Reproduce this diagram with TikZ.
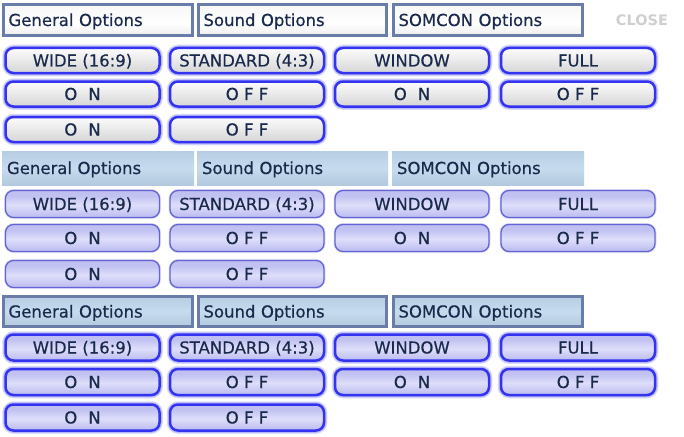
\documentclass[tikz,border=0pt]{standalone}
\usepackage{fontspec}
\setmainfont[FakeBold=0.5]{DejaVu Sans}
\newfontfamily\closefont{DejaVu Sans Bold}
\definecolor{txt}{HTML}{1A2A4C}
\definecolor{tabline}{HTML}{6A7DA8}
\definecolor{btnblue}{HTML}{3434F0}
\definecolor{btnthin}{HTML}{6464D4}
\definecolor{lavA}{HTML}{AAAAE4}
\definecolor{lavB}{HTML}{C2C2F2}
\definecolor{lavC}{HTML}{DEDEFA}
\definecolor{lavD}{HTML}{B4B4EC}
\definecolor{bluA}{HTML}{9FB6CC}
\definecolor{bluB}{HTML}{C6DBEE}
\definecolor{bluC}{HTML}{A8C0D7}
\pgfdeclareverticalshading{silverbtn}{100bp}{color(0bp)=(gray!26); color(30bp)=(gray!30); color(55bp)=(gray!14); color(80bp)=(white); color(100bp)=(white)}
\pgfdeclareverticalshading{silvertab}{100bp}{color(0bp)=(gray!30); color(45bp)=(white); color(100bp)=(gray!12)}
\pgfdeclareverticalshading{lavbtn}{100bp}{color(0bp)=(lavA); color(30bp)=(lavB); color(48bp)=(lavC); color(65bp)=(lavB); color(100bp)=(lavD)}
\pgfdeclareverticalshading{bluetab}{100bp}{color(0bp)=(bluA); color(50bp)=(bluB); color(100bp)=(bluC)}
\tikzset{
  lbl/.style={font=\fontsize{16.5}{18}\selectfont, text=txt, text height=12pt, text depth=0pt},
  tabtxt/.style={lbl, text width=179pt, align=left, inner xsep=5pt, inner ysep=0pt},
  tabA/.style={tabtxt, draw=tabline, line width=3pt, shading=silvertab, minimum height=31pt},
  tabB/.style={tabtxt, shading=bluetab, minimum height=34pt},
  tabC/.style={tabtxt, draw=tabline, line width=3pt, shading=bluetab, minimum height=30pt},
  btnbase/.style={lbl, rounded corners=8pt, minimum width=154pt, inner sep=0pt},
  btnA/.style={btnbase, draw=btnblue, line width=2.5pt, shading=silverbtn, minimum height=25pt,
    preaction={draw=btnblue!18, line width=6.5pt}, preaction={draw=btnblue!35, line width=4.5pt}},
  btnB/.style={btnbase, draw=btnthin, line width=1.3pt, shading=lavbtn, minimum height=27pt,
    preaction={draw=btnthin!20, line width=3pt}},
  btnC/.style={btnbase, draw=btnblue, line width=2.5pt, shading=lavbtn, minimum height=26pt,
    preaction={draw=btnblue!18, line width=6.5pt}, preaction={draw=btnblue!35, line width=4.5pt}},
  closelbl/.style={font=\closefont\fontsize{14.5}{16}\selectfont, text=gray!38}
}
\newcommand{\onlbl}{O\hspace{11pt}N}
\newcommand{\offlbl}{O F F}
\begin{document}
\begin{tikzpicture}[x=1pt,y=-1pt]
\useasboundingbox[fill=white] (0,0) rectangle (684,436);
% ---- section 1
\node[tabA] (t1a) at (98,20) {General Options};
\node[tabA, text width=178pt] (t1b) at (292.5,20) {Sound Options};
\node[tabA] (t1c) at (488,20) {SOMCON Options};
\node[closelbl] (close) at (642,20) {CLOSE};
\node[btnA] (a11) at (82.5,60.5) {WIDE (16:9)};
\node[btnA] (a12) at (247,60.5) {STANDARD (4:3)};
\node[btnA] (a13) at (412,60.5) {WINDOW};
\node[btnA] (a14) at (578,60.5) {FULL};
\node[btnA] (a21) at (82.5,94) {\onlbl};
\node[btnA] (a22) at (247,94) {\offlbl};
\node[btnA] (a23) at (412,94) {\onlbl};
\node[btnA] (a24) at (578,94) {\offlbl};
\node[btnA] (a31) at (82.5,129.5) {\onlbl};
\node[btnA] (a32) at (247,129.5) {\offlbl};
% ---- section 2
\node[tabB, text width=182pt] (t2a) at (98,168) {General Options};
\node[tabB, text width=181pt] (t2b) at (292.5,168) {Sound Options};
\node[tabB, text width=182pt] (t2c) at (488,168) {SOMCON Options};
\node[btnB] (b11) at (82.5,204) {WIDE (16:9)};
\node[btnB] (b12) at (247,204) {STANDARD (4:3)};
\node[btnB] (b13) at (412,204) {WINDOW};
\node[btnB] (b14) at (578,204) {FULL};
\node[btnB] (b21) at (82.5,238) {\onlbl};
\node[btnB] (b22) at (247,238) {\offlbl};
\node[btnB] (b23) at (412,238) {\onlbl};
\node[btnB] (b24) at (578,238) {\offlbl};
\node[btnB] (b31) at (82.5,274) {\onlbl};
\node[btnB] (b32) at (247,274) {\offlbl};
% ---- section 3
\node[tabC] (t3a) at (98,311.5) {General Options};
\node[tabC, text width=178pt] (t3b) at (292.5,311.5) {Sound Options};
\node[tabC] (t3c) at (488,311.5) {SOMCON Options};
\node[btnC] (c11) at (82.5,347.5) {WIDE (16:9)};
\node[btnC] (c12) at (247,347.5) {STANDARD (4:3)};
\node[btnC] (c13) at (412,347.5) {WINDOW};
\node[btnC] (c14) at (578,347.5) {FULL};
\node[btnC] (c21) at (82.5,382) {\onlbl};
\node[btnC] (c22) at (247,382) {\offlbl};
\node[btnC] (c23) at (412,382) {\onlbl};
\node[btnC] (c24) at (578,382) {\offlbl};
\node[btnC] (c31) at (82.5,417.5) {\onlbl};
\node[btnC] (c32) at (247,417.5) {\offlbl};
\end{tikzpicture}
\end{document}
